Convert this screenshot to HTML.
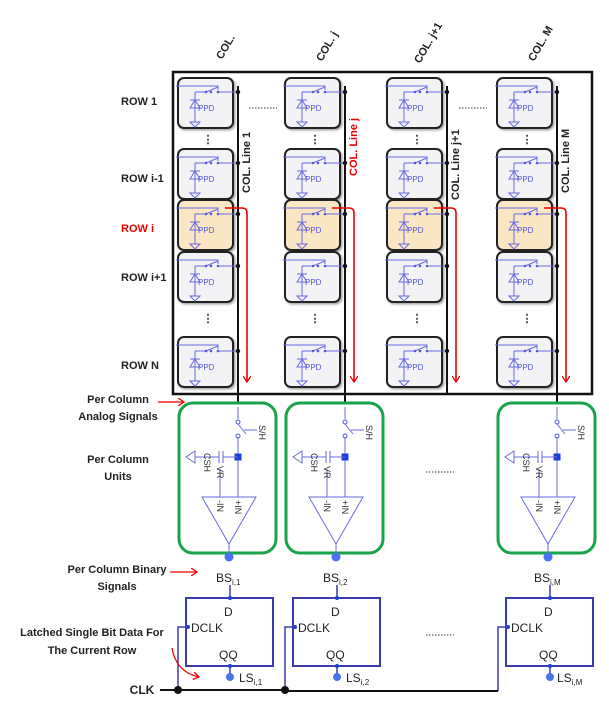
<!DOCTYPE html>
<html><head><meta charset="utf-8"><style>
html,body{margin:0;padding:0;background:#fff;}
svg{display:block;font-family:"Liberation Sans",Arial,sans-serif;}
.lb{font-weight:bold;font-size:11px;fill:#222;}
.ppd{font-size:8px;fill:#5555dd;}
.bl{stroke:#6a6ae0;stroke-width:1;fill:none;}
</style></head><body>
<svg width="609" height="709" viewBox="0 0 609 709" xmlns="http://www.w3.org/2000/svg">
<defs>
<filter id="sh" x="-10%" y="-10%" width="130%" height="130%"><feDropShadow dx="1.5" dy="1.5" stdDeviation="1" flood-color="#000" flood-opacity="0.35"/></filter>
<g id="cg">
  <path class="bl" d="M-2 8 H40 V12"/>
  <path class="bl" d="M17 14 H28 M28 14 L40 9 M40 14 H62"/>
  <circle cx="28" cy="14" r="1.3" fill="#5555dd"/><circle cx="33" cy="14" r="1.3" fill="#5555dd"/><circle cx="40" cy="14" r="1.3" fill="#5555dd"/>
  <path class="bl" d="M17 14 V44 M12 22 H22 M12 30 L17 22 L22 30 Z M12 44 L22 44 L17 49 Z"/>
</g>
<g id="pc"><rect x="0" y="0" width="55" height="50" rx="6" fill="#f3f3f6" stroke="#222" stroke-width="2" filter="url(#sh)"/><use href="#cg"/></g>
<g id="pco"><rect x="0" y="0" width="55" height="50" rx="6" fill="#fbe6c4" stroke="#222" stroke-width="2" filter="url(#sh)"/><use href="#cg"/></g>
<g id="unit">
  <rect x="0" y="0" width="97" height="150" rx="14" fill="#fff" stroke="#1aa34a" stroke-width="3"/>
  <path class="bl" d="M59 4 V16 M59 34 V94 M59 21 L67 31 M65 27 H78" stroke-dasharray="0"/>
  <circle cx="59" cy="19" r="2" fill="none" stroke="#5555dd"/><circle cx="59" cy="33" r="2" fill="none" stroke="#5555dd"/>
  <rect x="55.5" y="50.5" width="7" height="7" fill="#1d3fd6"/>
  <path class="bl" d="M59 54 H44 M44 48 V60 M40 48 V60 M40 54 H16 M16 48 V60 L7 54 Z M41 66 V94"/>
  <path d="M23 94 H77 L50 141 Z" fill="#fff" stroke="#6a6ae0" stroke-width="1"/>
  <path class="bl" d="M50 141 V152"/>
</g>
<g id="ff">
  <rect x="0" y="0" width="87" height="68" fill="#fff" stroke="#3b3bb0" stroke-width="2"/>
  <path d="M44 -13 V0 M44 68 V76" stroke="#3b3bb0" stroke-width="1.5"/>
  <circle cx="44" cy="0" r="2" fill="#1d3fd6"/><circle cx="44" cy="68" r="2" fill="#1d3fd6"/>
  <circle cx="44" cy="79" r="4" fill="#4a72f0"/>
  <circle cx="2" cy="29" r="2" fill="#1d3fd6"/>
</g>
<marker id="ar" markerWidth="8" markerHeight="8" refX="6" refY="4" orient="auto" markerUnits="userSpaceOnUse"><path d="M0 0 L6 4 L0 8" fill="none" stroke="#e00" stroke-width="1.3"/></marker>
</defs>

<!-- main box -->
<rect x="173" y="72" width="419" height="322" fill="#fff" stroke="#111" stroke-width="2.5"/>

<!-- column lines -->
<path d="M238 86 V407 M345 86 V407 M447 86 V394 M557 86 V407" stroke="#111" stroke-width="2"/>

<!-- cells -->
<g>
<use href="#pc" x="178" y="78"/><use href="#pc" x="285" y="78"/><use href="#pc" x="387" y="78"/><use href="#pc" x="497" y="78"/>
<use href="#pc" x="178" y="149"/><use href="#pc" x="285" y="149"/><use href="#pc" x="387" y="149"/><use href="#pc" x="497" y="149"/>
<use href="#pco" x="178" y="200"/><use href="#pco" x="285" y="200"/><use href="#pco" x="387" y="200"/><use href="#pco" x="497" y="200"/>
<use href="#pc" x="178" y="252"/><use href="#pc" x="285" y="252"/><use href="#pc" x="387" y="252"/><use href="#pc" x="497" y="252"/>
<use href="#pc" x="178" y="337"/><use href="#pc" x="285" y="337"/><use href="#pc" x="387" y="337"/><use href="#pc" x="497" y="337"/>
</g>
<g class="ppd">
<text x="198" y="111">PPD</text><text x="305" y="111">PPD</text><text x="407" y="111">PPD</text><text x="517" y="111">PPD</text>
<text x="198" y="182">PPD</text><text x="305" y="182">PPD</text><text x="407" y="182">PPD</text><text x="517" y="182">PPD</text>
<text x="198" y="233">PPD</text><text x="305" y="233">PPD</text><text x="407" y="233">PPD</text><text x="517" y="233">PPD</text>
<text x="198" y="285">PPD</text><text x="305" y="285">PPD</text><text x="407" y="285">PPD</text><text x="517" y="285">PPD</text>
<text x="198" y="370">PPD</text><text x="305" y="370">PPD</text><text x="407" y="370">PPD</text><text x="517" y="370">PPD</text>
</g>
<!-- junction dots -->
<g fill="#111">
<circle cx="238" cy="92" r="2.2"/><circle cx="345" cy="92" r="2.2"/><circle cx="447" cy="92" r="2.2"/><circle cx="557" cy="92" r="2.2"/>
<circle cx="238" cy="163" r="2.2"/><circle cx="345" cy="163" r="2.2"/><circle cx="447" cy="163" r="2.2"/><circle cx="557" cy="163" r="2.2"/>
<circle cx="238" cy="214" r="2.2"/><circle cx="345" cy="214" r="2.2"/><circle cx="447" cy="214" r="2.2"/><circle cx="557" cy="214" r="2.2"/>
<circle cx="238" cy="266" r="2.2"/><circle cx="345" cy="266" r="2.2"/><circle cx="447" cy="266" r="2.2"/><circle cx="557" cy="266" r="2.2"/>
<circle cx="238" cy="351" r="2.2"/><circle cx="345" cy="351" r="2.2"/><circle cx="447" cy="351" r="2.2"/><circle cx="557" cy="351" r="2.2"/>
</g>
<!-- vertical dots -->
<g font-size="11" fill="#333" font-weight="bold" text-anchor="middle">
<text x="208" y="143">⋮</text><text x="315" y="143">⋮</text><text x="417" y="143">⋮</text><text x="527" y="143">⋮</text>
<text x="208" y="322">⋮</text><text x="315" y="322">⋮</text><text x="417" y="322">⋮</text><text x="527" y="322">⋮</text>
</g>
<!-- horizontal dots -->
<g stroke="#333" stroke-width="1" stroke-dasharray="1.5 1.5">
<path d="M249 108 H277 M459 108 H487 M426 472 H454 M426 635 H454"/>
</g>
<!-- red arrows -->
<g stroke="#e00" stroke-width="1.6" fill="none">
<path d="M225 208 H242 Q247 208 247 213 V382" marker-end="url(#ar)"/>
<path d="M332 208 H349 Q354 208 354 213 V382" marker-end="url(#ar)"/>
<path d="M434 208 H451 Q456 208 456 213 V382" marker-end="url(#ar)"/>
<path d="M544 208 H561 Q566 208 566 213 V382" marker-end="url(#ar)"/>
</g>

<!-- column labels -->
<g class="lb" font-size="11">
<text transform="translate(222,60) rotate(-60)">COL.</text>
<text transform="translate(322,62) rotate(-60)">COL. j</text>
<text transform="translate(420,64) rotate(-60)">COL. j+1</text>
<text transform="translate(534,62) rotate(-60)">COL. M</text>
</g>
<g class="lb" font-size="12">
<text transform="translate(250,193) rotate(-90)">COL. Line 1</text>
<text transform="translate(357,176) rotate(-90)" fill="#e00" style="fill:#e00">COL. Line j</text>
<text transform="translate(459,200) rotate(-90)">COL. Line j+1</text>
<text transform="translate(569,193) rotate(-90)">COL. Line M</text>
</g>
<!-- row labels -->
<g class="lb" font-size="11">
<text x="121" y="105">ROW 1</text>
<text x="121" y="182">ROW i-1</text>
<text x="121" y="232" style="fill:#e00">ROW i</text>
<text x="121" y="281">ROW i+1</text>
<text x="121" y="369">ROW N</text>
</g>

<!-- units -->
<use href="#unit" x="179" y="403"/>
<use href="#unit" x="286" y="403"/>
<use href="#unit" x="498" y="403"/>
<g fill="#4a72f0"><circle cx="229" cy="557" r="4.5"/><circle cx="336" cy="557" r="4.5"/><circle cx="548" cy="557" r="4.5"/></g>
<g font-size="9" fill="#333">
<text transform="translate(259,425) rotate(90)">S/H</text>
<text transform="translate(366,425) rotate(90)">S/H</text>
<text transform="translate(578,425) rotate(90)">S/H</text>
<text transform="translate(204,453) rotate(90)">CSH</text>
<text transform="translate(311,453) rotate(90)">CSH</text>
<text transform="translate(523,453) rotate(90)">CSH</text>
<text transform="translate(217,466) rotate(90)">VR</text>
<text transform="translate(324,466) rotate(90)">VR</text>
<text transform="translate(536,466) rotate(90)">VR</text>
<text transform="translate(217,500) rotate(90)">-IN</text>
<text transform="translate(235,500) rotate(90)">+IN</text>
<text transform="translate(324,500) rotate(90)">-IN</text>
<text transform="translate(342,500) rotate(90)">+IN</text>
<text transform="translate(536,500) rotate(90)">-IN</text>
<text transform="translate(554,500) rotate(90)">+IN</text>
</g>

<!-- flip flops -->
<use href="#ff" x="186" y="598"/>
<use href="#ff" x="293" y="598"/>
<use href="#ff" x="506" y="598"/>
<g font-size="12" fill="#222">
<text x="224" y="616">D</text><text x="191" y="632">DCLK</text><text x="219" y="659">QQ</text>
<text x="331" y="616">D</text><text x="298" y="632">DCLK</text><text x="326" y="659">QQ</text>
<text x="544" y="616">D</text><text x="511" y="632">DCLK</text><text x="539" y="659">QQ</text>
<text x="216" y="582">BS<tspan font-size="8" dy="3">i,1</tspan></text>
<text x="323" y="582">BS<tspan font-size="8" dy="3">i,2</tspan></text>
<text x="534" y="582">BS<tspan font-size="8" dy="3">i,M</tspan></text>
<text x="239" y="682">LS<tspan font-size="8" dy="3">i,1</tspan></text>
<text x="346" y="682">LS<tspan font-size="8" dy="3">i,2</tspan></text>
<text x="557" y="682">LS<tspan font-size="8" dy="3">i,M</tspan></text>
</g>
<!-- clock wiring -->
<path d="M188 627 H178 V690 M295 627 H285 V690 M508 627 H498 V691" stroke="#3b3bb0" stroke-width="1.5" fill="none"/>
<path d="M160 690 H285 V691 H498" stroke="#111" stroke-width="2" fill="none"/>
<circle cx="178" cy="690" r="4" fill="#111"/><circle cx="285" cy="690" r="4" fill="#111"/>

<!-- left labels -->
<g class="lb" font-size="11" text-anchor="middle">
<text x="118" y="403">Per Column</text>
<text x="118" y="420">Analog Signals</text>
<text x="118" y="463">Per Column</text>
<text x="118" y="480">Units</text>
<text x="117" y="573">Per Column Binary</text>
<text x="117" y="590">Signals</text>
<text x="92" y="636">Latched Single Bit Data For</text>
<text x="92" y="654">The Current Row</text>
<text x="142" y="694" font-size="12">CLK</text>
</g>
<g stroke="#e00" stroke-width="1.2" fill="none">
<path d="M158 402 H184" marker-end="url(#ar)"/>
<path d="M170 572 H197" marker-end="url(#ar)"/>
<path d="M172 648 Q176 672 199 677" marker-end="url(#ar)"/>
</g>
</svg>
</body></html>
